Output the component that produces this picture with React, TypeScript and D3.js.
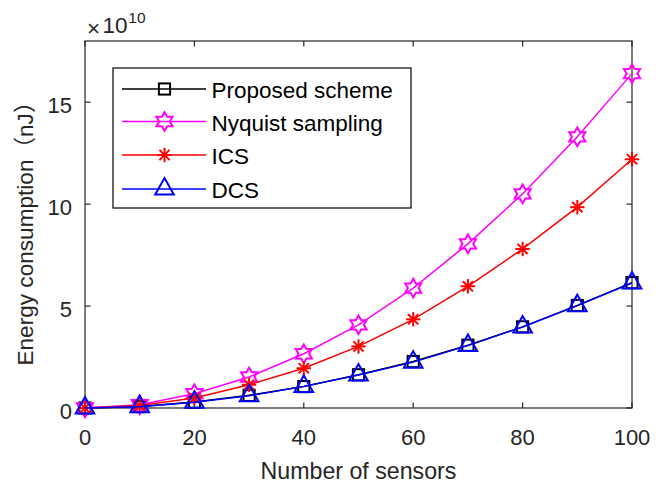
import React from "react";
import * as d3 from "d3";

const sensors = [0, 10, 20, 30, 40, 50, 60, 70, 80, 90, 100];
const proposed = [0, 0.07, 0.29, 0.62, 1.05, 1.63, 2.28, 3.08, 3.98, 5.03, 6.15];
const nyquist = [0, 0.16, 0.7, 1.52, 2.66, 4.08, 5.88, 8.05, 10.5, 13.3, 16.4];
const ics = [0, 0.12, 0.49, 1.14, 1.95, 3.02, 4.35, 5.97, 7.8, 9.85, 12.2];
const dcs = [0, 0.06, 0.28, 0.6, 1.06, 1.62, 2.25, 3.06, 3.97, 5.02, 6.13];

const xTicks = [0, 20, 40, 60, 80, 100];
const yTicks = [0, 5, 10, 15];
const seriesNames = ["Proposed scheme", "Nyquist sampling", "ICS", "DCS"];
const seriesColors = ["#000000", "#FF00FF", "#FF0000", "#0000FF"];
const seriesMarkers = ["square", "hexagram", "asterisk", "triangle"];
const seriesData = [proposed, nyquist, ics, dcs];

const W = 667;
const H = 485;
const L = 85, R = 632, T = 41, B = 408;
const FONT = "'Liberation Sans', Arial, Helvetica, sans-serif";
const AX = "#262626";

function Marker({ type, x, y, color }: { type: string; x: number; y: number; color: string }) {
  const sw = 2;
  if (type === "square") {
    const s = 5.6;
    return <rect x={x - s} y={y - s} width={2 * s} height={2 * s} fill="none" stroke={color} strokeWidth={sw} />;
  }
  if (type === "triangle") {
    const pts = [[x, y - 11], [x + 9.3, y + 5.5], [x - 9.3, y + 5.5]];
    return <polygon points={pts.map((p) => p.join(",")).join(" ")} fill="none" stroke={color} strokeWidth={sw} />;
  }
  if (type === "hexagram") {
    const Ro = 9.3;
    const Ri = Ro / Math.sqrt(3);
    const pts: number[][] = [];
    for (let i = 0; i < 12; i++) {
      const a = -Math.PI / 2 + (i * Math.PI) / 6;
      const r = i % 2 === 0 ? Ro : Ri;
      pts.push([x + r * Math.cos(a), y + r * Math.sin(a)]);
    }
    return <polygon points={pts.map((p) => p.join(",")).join(" ")} fill="none" stroke={color} strokeWidth={sw} />;
  }
  const r = 7.2;
  const d = r * 0.707;
  return (
    <g stroke={color} strokeWidth={sw}>
      <line x1={x - r} y1={y} x2={x + r} y2={y} />
      <line x1={x} y1={y - r} x2={x} y2={y + r} />
      <line x1={x - d} y1={y - d} x2={x + d} y2={y + d} />
      <line x1={x - d} y1={y + d} x2={x + d} y2={y - d} />
    </g>
  );
}

export default function App() {
  const xScale = d3.scaleLinear().domain([0, 100]).range([L, R]);
  const yScale = d3.scaleLinear().domain([0, 18]).range([B, T]);
  const line = d3
    .line<[number, number]>()
    .x((d) => xScale(d[0]))
    .y((d) => yScale(d[1]));

  const legendRows = [89, 121.5, 155, 189];

  return (
    <svg
      width={W}
      height={H}
      style={{ position: "absolute", left: 0, top: 0, background: "#fff" }}
      fontFamily={FONT}
    >
      <rect x={0} y={0} width={W} height={H} fill="#fff" />
      <rect x={L} y={T} width={R - L} height={B - T} fill="none" stroke={AX} strokeWidth={1.2} />
      {xTicks.map((t) => (
        <g key={"x" + t}>
          <line x1={xScale(t)} x2={xScale(t)} y1={B} y2={B - 5.5} stroke={AX} strokeWidth={1.2} />
          <line x1={xScale(t)} x2={xScale(t)} y1={T} y2={T + 5.5} stroke={AX} strokeWidth={1.2} />
          <text x={xScale(t)} y={445} textAnchor="middle" fontSize={22} fill={AX}>
            {t}
          </text>
        </g>
      ))}
      {yTicks.map((t) => (
        <g key={"y" + t}>
          <line x1={L} x2={L + 5.5} y1={yScale(t)} y2={yScale(t)} stroke={AX} strokeWidth={1.2} />
          <line x1={R} x2={R - 5.5} y1={yScale(t)} y2={yScale(t)} stroke={AX} strokeWidth={1.2} />
          <text x={72} y={yScale(t) + 11} textAnchor="end" fontSize={22} fill={AX}>
            {t}
          </text>
        </g>
      ))}
      <text x={87} y={36} fontSize={22.5} fill={AX}>
        ×
      </text>
      <text x={102.5} y={33.3} fontSize={22.5} fill={AX}>
        10
      </text>
      <text x={128.3} y={22.7} fontSize={15.5} fill={AX}>
        10
      </text>
      <text x={(L + R) / 2} y={479} textAnchor="middle" fontSize={23.2} fill={AX}>
        Number of sensors
      </text>
      <text
        transform={`translate(33.3, 228) rotate(-90)`}
        textAnchor="middle"
        fontSize={22.6}
        fill={AX}
        fontFamily={FONT + ", 'Noto Sans CJK SC'"}
      >
        Energy consumption（nJ）
      </text>
      {seriesData.map((vals, i) => {
        const pts = sensors.map((s, j) => [s, vals[j]] as [number, number]);
        return (
          <g key={"s" + i}>
            <path d={line(pts) || ""} fill="none" stroke={seriesColors[i]} strokeWidth={1.5} />
            {pts.map((p, j) => (
              <Marker key={j} type={seriesMarkers[i]} x={xScale(p[0])} y={yScale(p[1])} color={seriesColors[i]} />
            ))}
          </g>
        );
      })}
      <rect x={113} y={68} width={298} height={140} fill="#fff" stroke="#000" strokeWidth={1.2} />
      {seriesNames.map((n, i) => (
        <g key={"l" + i}>
          <line x1={122} x2={206} y1={legendRows[i]} y2={legendRows[i]} stroke={seriesColors[i]} strokeWidth={1.5} />
          <Marker type={seriesMarkers[i]} x={164.5} y={legendRows[i]} color={seriesColors[i]} />
          <text x={211.5} y={legendRows[i] + 9} fontSize={22.5} fill="#000">
            {n}
          </text>
        </g>
      ))}
    </svg>
  );
}
